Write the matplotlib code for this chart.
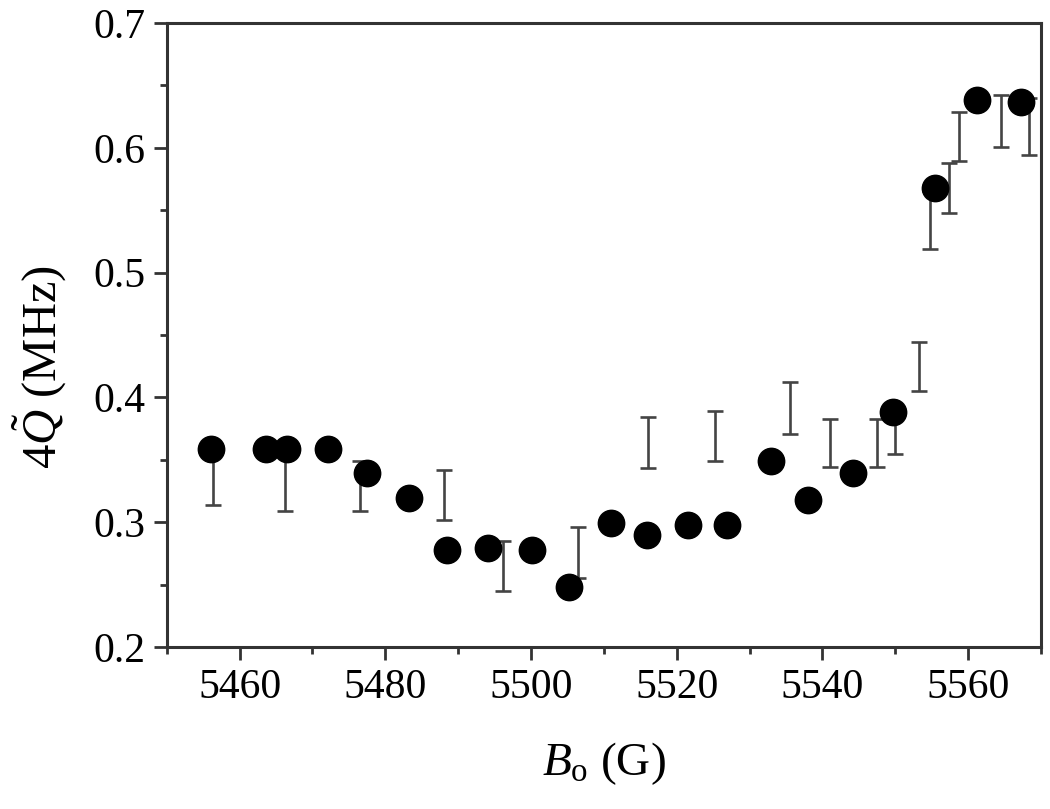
import numpy as np
from matplotlib import pyplot as plt
from matplotlib.ticker import MultipleLocator

plt.rcParams['font.family'] = ['Liberation Serif', 'DejaVu Serif']
plt.rcParams['mathtext.fontset'] = 'custom'
plt.rcParams['mathtext.rm'] = 'Liberation Serif'
plt.rcParams['mathtext.it'] = 'Liberation Serif:italic'

# measured points
field = [5456.1, 5463.6, 5466.5, 5472.1, 5477.5, 5483.3, 5488.5, 5494.1, 5500.1, 5505.2,
         5511.0, 5515.9, 5521.6, 5526.9, 5533.0, 5538.0, 5544.2, 5549.7, 5555.5, 5561.2, 5567.2]
quad = [0.359, 0.359, 0.359, 0.359, 0.339, 0.319, 0.278, 0.279, 0.278, 0.248,
        0.299, 0.290, 0.298, 0.298, 0.349, 0.318, 0.339, 0.388, 0.568, 0.638, 0.637]

# error bars (drawn separately in the original)
err_field = [5456.3, 5466.2, 5476.5, 5488.0, 5496.1, 5506.4, 5516.0, 5525.3, 5535.6, 5541.1,
             5547.5, 5550.0, 5553.3, 5554.8, 5557.4, 5558.7, 5564.5, 5568.3]
err_lo = [0.314, 0.309, 0.309, 0.302, 0.245, 0.255, 0.343, 0.349, 0.371, 0.344,
          0.344, 0.355, 0.405, 0.519, 0.548, 0.589, 0.601, 0.594]
err_hi = [0.360, 0.360, 0.349, 0.342, 0.285, 0.296, 0.384, 0.389, 0.412, 0.383,
          0.383, 0.390, 0.444, 0.565, 0.588, 0.629, 0.642, 0.640]

lo = np.array(err_lo)
hi = np.array(err_hi)

fig = plt.figure(figsize=(10.5, 8.09), dpi=100)
ax = fig.add_axes([0.1588, 0.2003, 0.8326, 0.7713])

ax.errorbar(err_field, lo, yerr=[np.zeros_like(lo), hi - lo], fmt='none',
            ecolor='#444444', elinewidth=1.9, capsize=6, capthick=1.9, zorder=2)
ax.plot(field, quad, linestyle='None', marker='o', markersize=19, color='black', zorder=3)

ax.set_xlim(5450, 5570)
ax.set_ylim(0.2, 0.7)
ax.xaxis.set_major_locator(MultipleLocator(20))
ax.xaxis.set_minor_locator(MultipleLocator(10))
ax.yaxis.set_major_locator(MultipleLocator(0.1))
ax.yaxis.set_minor_locator(MultipleLocator(0.05))
ax.yaxis.set_major_formatter(plt.FuncFormatter(lambda v, p: '%.1f' % v))

for s in ax.spines.values():
    s.set_linewidth(2.2)
    s.set_color('#333333')
ax.tick_params(which='both', direction='out', width=2, color='#333333', labelsize=30)
ax.tick_params(which='major', length=9.5)
ax.tick_params(which='minor', length=5)
ax.tick_params(axis='x', pad=6)
ax.tick_params(axis='y', pad=6)

ax.set_xlabel(r'$B_{\mathrm{o}}$ (G)', fontsize=34)
ax.set_ylabel(r'$\mathit{4\tilde{Q}}$ (MHz)', fontsize=35)
ax.xaxis.set_label_coords(0.5, -0.149)
ax.yaxis.set_label_coords(-0.113, 0.448)

plt.savefig('out.png', dpi=100)
